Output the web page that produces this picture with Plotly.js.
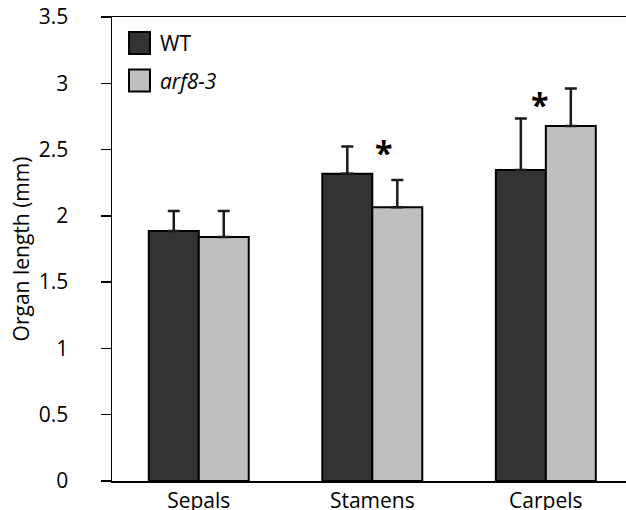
<!DOCTYPE html>
<html>
<head>
<meta charset="utf-8">
<script src="https://cdn.plot.ly/plotly-3.0.1.min.js"></script>
<style>html,body{margin:0;padding:0;background:#fff;}#chart{width:626px;height:510px;}</style>
</head>
<body>
<div id="chart"></div>
<script>
const categories = ['Sepals', 'Stamens', 'Carpels'];
const seriesNames = ['WT', 'arf8-3'];
const wtValues = [1.885, 2.317, 2.345];
const wtErrors = [0.151, 0.207, 0.39];
const arfValues = [1.84, 2.064, 2.677];
const arfErrors = [0.196, 0.206, 0.283];
const yTicks = [0, 0.5, 1, 1.5, 2, 2.5, 3, 3.5];
const yTickLabels = ['0', '0.5', '1', '1.5', '2', '2.5', '3', '3.5'];
const significance = [
  {category: 1, offset: 0.063, y: 2.51},
  {category: 2, offset: -0.035, y: 2.87}
];

const FONT = 'Open Sans, sans-serif';
const colors = ['#333333', '#bfbfbf'];

function errBar(arr) {
  return {type: 'data', symmetric: false, array: arr, arrayminus: arr.map(() => 0),
          color: '#1a1a1a', thickness: 2.5, width: 6};
}

const traces = [
  {type: 'bar', name: seriesNames[0], x: categories, y: wtValues,
   marker: {color: colors[0], line: {color: '#000', width: 2}}, error_y: errBar(wtErrors)},
  {type: 'bar', name: seriesNames[1], x: categories, y: arfValues,
   marker: {color: colors[1], line: {color: '#000', width: 2}}, error_y: errBar(arfErrors)}
];

// custom legend (large squares)
const legendRows = [0.9440, 0.8630];
const shapes = [];
const annotations = [];
seriesNames.forEach((name, i) => {
  const yc = legendRows[i];
  shapes.push({type: 'rect', xref: 'paper', yref: 'paper',
    x0: 0.0331, x1: 0.0739, y0: yc - 0.0237, y1: yc + 0.0237,
    fillcolor: colors[i], line: {color: '#000', width: 2}});
  annotations.push({xref: 'paper', yref: 'paper', x: 0.0895, y: yc, xanchor: 'left', yanchor: 'middle',
    text: i === 1 ? '<i>' + name + '</i>' : name, showarrow: false,
    font: {family: FONT, size: 21, color: '#000'}});
});
significance.forEach(s => {
  annotations.push({xref: 'x', yref: 'y', x: s.category + s.offset, y: s.y, text: '<b>*</b>',
    showarrow: false, xanchor: 'center', yanchor: 'middle', yshift: -4,
    font: {family: FONT, size: 32, color: '#000'}});
});

const layout = {
  width: 626, height: 510,
  margin: {l: 112, r: 0, t: 17, b: 29, pad: 0},
  paper_bgcolor: '#fff', plot_bgcolor: '#fff',
  showlegend: false,
  barmode: 'group', bargap: 0.424, bargroupgap: 0,
  font: {family: FONT, size: 21, color: '#000'},
  xaxis: {type: 'category', range: [-0.5, 2.462], showgrid: false, zeroline: false,
          showline: true, linecolor: '#000', linewidth: 1.5, mirror: true, ticks: '',
          tickfont: {family: FONT, size: 21, color: '#000'}, ticklabelstandoff: 0},
  yaxis: {range: [0, 3.5], tickvals: yTicks, ticktext: yTickLabels, showgrid: false, zeroline: false,
          showline: true, linecolor: '#000', linewidth: 1.5, ticks: 'outside', ticklen: 10,
          tickwidth: 1.5, tickcolor: '#000', ticklabelstandoff: 28,
          tickfont: {family: FONT, size: 21, color: '#000'},
          title: {text: 'Organ length (mm)', font: {family: FONT, size: 21, color: '#000'}, standoff: 3},
          automargin: false},
  shapes: shapes,
  annotations: annotations
};

Plotly.newPlot('chart', traces, layout, {displayModeBar: false, staticPlot: true});
</script>
</body>
</html>
